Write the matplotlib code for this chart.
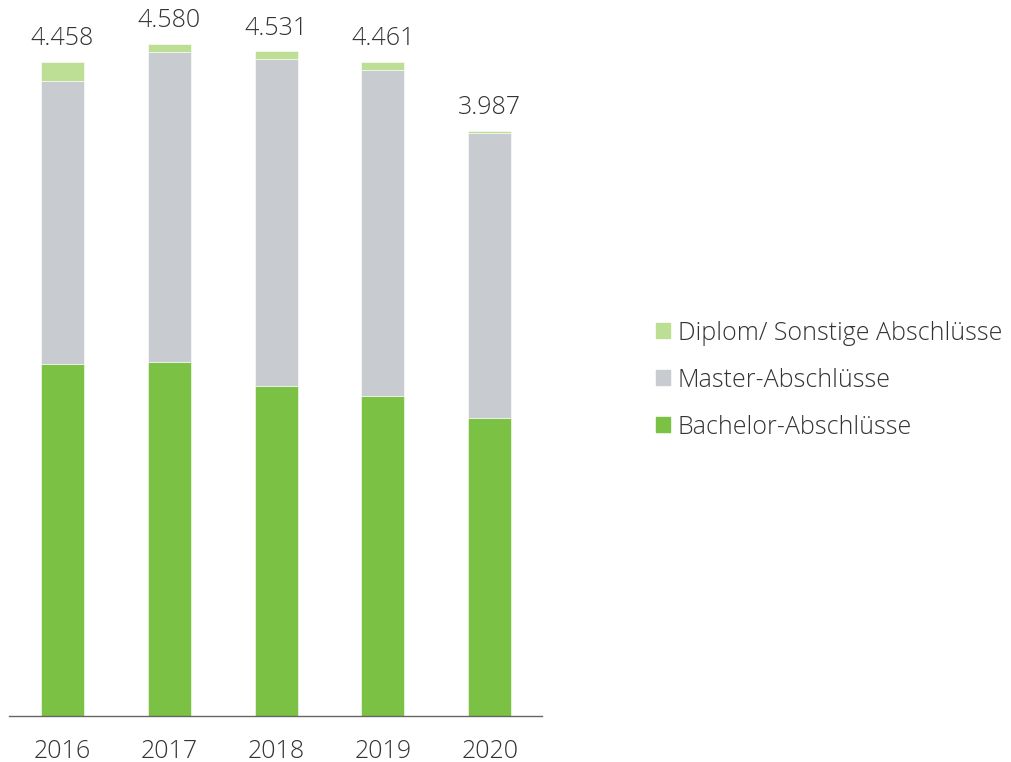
import matplotlib
matplotlib.use("Agg")
import matplotlib.pyplot as plt
from matplotlib.patches import Patch
import numpy as np

plt.rcParams["font.family"] = ["Open Sans", "DejaVu Sans"]

jahre = ["2016", "2017", "2018", "2019", "2020"]
bachelor = [2399, 2413, 2252, 2183, 2033]
master = [1928, 2111, 2224, 2221, 1941]
diplom = [131, 56, 55, 57, 13]
summen = ["4.458", "4.580", "4.531", "4.461", "3.987"]

C_BACH = "#7bc143"
C_MAST = "#c8cbd0"
C_DIPL = "#bddf95"
TXT = "#333333"
FS = 18

fig = plt.figure(figsize=(10.11, 7.62), dpi=100)
ax = fig.add_axes([9 / 1011, 46 / 762, (542 - 9) / 1011, 716 / 762])

x = np.arange(len(jahre))
b = np.array(bachelor)
m = np.array(master)
d = np.array(diplom)
w = 0.403
ax.bar(x, b, w, color=C_BACH, edgecolor="white", linewidth=0.4)
ax.bar(x, m, w, bottom=b, color=C_MAST, edgecolor="white", linewidth=0.4)
ax.bar(x, d, w, bottom=b + m, color=C_DIPL, edgecolor="white", linewidth=0.4)

# Summen über den Säulen
for xi, tot, lab in zip(x, b + m + d, summen):
    ax.annotate(lab, (xi, tot), xytext=(0, 12), textcoords="offset points",
                ha="center", va="baseline", fontsize=FS, color=TXT,
                fontweight="light")

ax.set_xlim(-0.5, 4.49)
ax.set_ylim(0, 716 / 0.1467)
ax.set_xticks(x)
ax.set_xticklabels(jahre, fontsize=FS, color=TXT, fontweight="light")
ax.tick_params(axis="x", length=0, pad=16.5)
ax.set_yticks([])
for s in ["top", "right", "left"]:
    ax.spines[s].set_visible(False)
ax.spines["bottom"].set_color("#666666")
ax.spines["bottom"].set_linewidth(1.0)
ax.patch.set_alpha(0)

handles = [Patch(color=C_DIPL), Patch(color=C_MAST), Patch(color=C_BACH)]
labels = ["Diplom/ Sonstige Abschlüsse", "Master-Abschlüsse", "Bachelor-Abschlüsse"]
leg = fig.legend(handles, labels, loc="center left",
                 bbox_to_anchor=(656 / 1011, 1 - 380 / 762),
                 frameon=False, fontsize=FS, handlelength=0.56, handleheight=0.56,
                 handletextpad=0.3, labelspacing=0.88, borderpad=0, borderaxespad=0)
for t in leg.get_texts():
    t.set_color(TXT)
    t.set_fontweight("light")

fig.savefig("out.png", dpi=100, facecolor="white")
